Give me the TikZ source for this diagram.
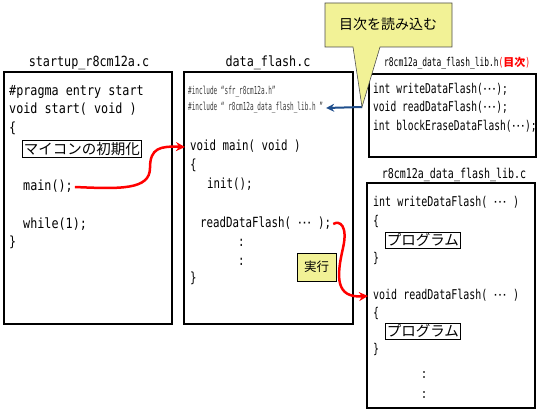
\documentclass[tikz,border=0pt]{standalone}
\usepackage{fontspec}
\usetikzlibrary{arrows.meta}
\newfontfamily\monoA[FakeStretch=0.84]{DejaVu Sans Mono}
\newfontfamily\monoB[FakeStretch=0.77]{DejaVu Sans Mono}
\newfontfamily\monoC[FakeStretch=0.74]{DejaVu Sans Mono}
\newfontfamily\monoH[FakeStretch=0.71]{DejaVu Sans Mono}
\newfontfamily\monoD[FakeStretch=0.55]{DejaVu Sans Mono}
\newfontfamily\monoE[FakeStretch=0.66]{DejaVu Sans Mono}
\newfontfamily\jp{Noto Sans CJK JP}
\newfontfamily\dvs{DejaVu Sans}
\newcommand{\mdots}{{\dvs ⋯}}
\definecolor{callyellow}{RGB}{242,242,150}
\definecolor{arrowblue}{RGB}{31,78,140}
\definecolor{incgray}{RGB}{60,60,60}
\tikzset{
  filebox/.style={draw=black, line width=2pt},
  codeA/.style={anchor=west, inner sep=0pt, font=\monoA\fontsize{14}{16}\selectfont, text height=9.5pt, text depth=3pt},
  codeB/.style={anchor=west, inner sep=0pt, font=\monoB\fontsize{14}{16}\selectfont, text height=9.5pt, text depth=3pt},
  codeC/.style={anchor=west, inner sep=0pt, font=\monoC\fontsize{13.5}{15}\selectfont, text height=9.5pt, text depth=3pt},
  codeH/.style={anchor=west, inner sep=0pt, font=\monoH\fontsize{13.5}{15}\selectfont, text height=9.5pt, text depth=3pt},
  incl/.style={anchor=west, inner sep=0pt, text=incgray, font=\monoD\fontsize{11}{13}\selectfont, text height=7.5pt, text depth=2.5pt},
  title/.style={inner sep=0pt, text height=9.5pt, text depth=3pt},
  jpbox/.style={draw=black, line width=0.8pt, fill=white, inner sep=1.5pt, anchor=west, font=\jp\fontsize{14.5}{16}\selectfont},
  redarrow/.style={draw=red, line width=2.5pt, -{Stealth[length=9pt,width=9pt]}},
  bluearrow/.style={draw=arrowblue, line width=2pt, -{Stealth[length=8pt,width=8pt]}},
}
\begin{document}
\begin{tikzpicture}[x=1pt,y=-1pt]
\useasboundingbox (0,0) rectangle (540,412);

% file boxes
\draw[filebox] (4,72) rectangle (172,324);
\draw[filebox] (184,72) rectangle (353,324);
\draw[filebox] (369,74) rectangle (536,157);
\draw[filebox] (367,183) rectangle (535,408);

% titles
\node[title, font=\monoA\fontsize{14}{16}\selectfont] (t1) at (89,63) {startup\_r8cm12a.c};
\node[title, font=\monoA\fontsize{14}{16}\selectfont] (t2) at (268,63) {data\_flash.c};
\node[title, anchor=west, font=\monoE\fontsize{12}{14}\selectfont] (t3) at (384,63) {r8cm12a\_data\_flash\_lib.h{\color{red}(\textbf{\jp\fontsize{11}{12}\selectfont 目次})}};
\node[title, font=\monoC\fontsize{13.5}{15}\selectfont] (t4) at (454,175) {r8cm12a\_data\_flash\_lib.c};

% startup file
\node[codeA] (p1) at (9,92) {\#pragma entry start};
\node[codeA] (p2) at (9,110) {void start( void )};
\node[codeA] (p3) at (9,129) {\{};
\node[jpbox] (init1) at (22,149) {マイコンの初期化};
\node[codeA] (mainc) at (23,187) {main();};
\node[codeA] (wh) at (23,225) {while(1);};
\node[codeA] (p4) at (9,243) {\}};

% data_flash.c
\node[incl] (inc1) at (188,92) {\#include “sfr\_r8cm12a.h”};
\node[incl] (inc2) at (188,108) {\#include “ r8cm12a\_data\_flash\_lib.h ”};
\node[codeB] (vmain) at (190,147) {void main( void )};
\node[codeB] (b1) at (190,166) {\{};
\node[codeB] (initc) at (207,185) {init();};
\node[codeB] (rdf) at (200,224) {readDataFlash( \mdots{} );};
\node[codeB] (d1) at (238,243) {:};
\node[codeB] (d2) at (238,262) {:};
\node[codeB] (b2) at (190,279) {\}};

% header file
\node[codeH] (h1) at (373,90) {int writeDataFlash(\mdots);};
\node[codeH] (h2) at (373,108) {void readDataFlash(\mdots);};
\node[codeH] (h3) at (373,127) {int blockEraseDataFlash(\mdots);};

% lib.c
\node[codeC] (l1) at (373,203) {int writeDataFlash( \mdots{} )};
\node[codeC] (l2) at (373,222) {\{};
\node[jpbox] (prog1) at (385,240) {プログラム};
\node[codeC] (l3) at (373,259) {\}};
\node[codeC] (vrdf) at (373,296) {void readDataFlash( \mdots{} )};
\node[codeC] (l4) at (373,314) {\{};
\node[jpbox] (prog2) at (385,331) {プログラム};
\node[codeC] (l5) at (373,350) {\}};
\node[codeC] (l6) at (421,375) {:};
\node[codeC] (l7) at (421,395) {:};

% exec label
\node[draw=black, line width=0.8pt, fill=callyellow, minimum width=39pt, minimum height=28pt, inner sep=0pt, font=\jp\fontsize{12.5}{14}\selectfont] (exec) at (316.5,267) {実行};

% red arrows
\draw[redarrow] ([xshift=2pt]mainc.east) .. controls (120,189) and (150,190) .. (150,168)
   .. controls (150,148) and (160,146) .. ([xshift=-5pt]vmain.west);
\draw[redarrow] ([xshift=2pt]rdf.east) .. controls (340,220) and (348,226) .. (343,248)
   .. controls (336,278) and (336,298) .. ([xshift=-5pt]vrdf.west);

% callout
\coordinate (tip) at (362,107);
\draw[bluearrow] (tip) -- ([xshift=3pt]inc2.east);
\draw[draw=black!70, line width=0.6pt, fill=callyellow]
  (325,3) -- (452,3) -- (452,47) -- (380,47) -- (tip) -- (353,47) -- (325,47) -- cycle;
\node[inner sep=0pt, font=\jp\fontsize{14}{16}\selectfont] (call) at (388,24) {目次を読み込む};
\end{tikzpicture}
\end{document}
